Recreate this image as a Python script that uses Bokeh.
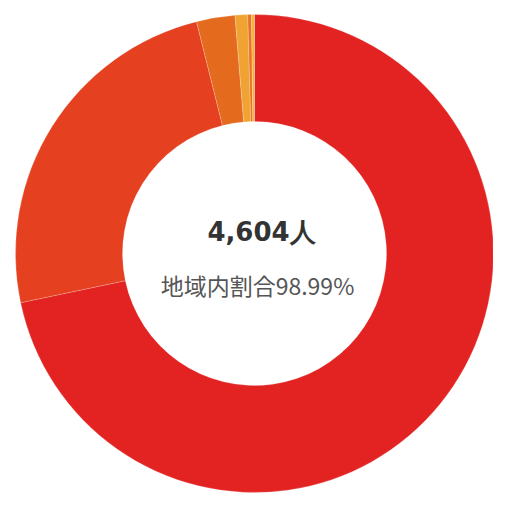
import math
from bokeh.plotting import figure
from bokeh.models import Range1d, ColumnDataSource
from bokeh.core.properties import value
from bokeh.embed import file_html
from bokeh.resources import INLINE

# Data (shares of the ring, clockwise from 12 o'clock)
categories = ["A", "B", "C", "D", "E", "F"]
shares = [71.7, 24.4, 2.6, 0.85, 0.25, 0.2]
colors = ["#e32222", "#e5401f", "#e46a1e", "#f0a232", "#e87422", "#f2b442"]
total_label = "4,604人"
sub_label = "地域内割合98.99%"

W = H = 493
p = figure(width=W, height=H, output_backend="svg", toolbar_location=None,
           x_range=Range1d(0, W), y_range=Range1d(0, H), min_border=0)
p.axis.visible = False
p.grid.visible = False
p.outline_line_color = None
p.background_fill_color = "white"
p.border_fill_color = "white"

cx, cy = 254, 240
tot = sum(shares)
starts, ends = [], []
acc = 0.0
for s in shares:
    starts.append(math.pi / 2 - acc / tot * 2 * math.pi)
    acc += s
    ends.append(math.pi / 2 - acc / tot * 2 * math.pi)

src = ColumnDataSource(dict(cat=categories, start=starts, end=ends, color=colors))
p.annular_wedge(x=cx, y=cy, inner_radius=132, outer_radius=239,
                start_angle="start", end_angle="end", direction="clock",
                fill_color="color", line_color="white", line_alpha=0.35,
                line_width=0.6, source=src)

p.text(x=[261], y=[262], text=[total_label], text_align="center",
       text_baseline="middle", text_font=value("DejaVu Sans"),
       text_font_style="bold", text_font_size="26px", text_color="#333333")
p.text(x=[257], y=[209], text=[sub_label], text_align="center",
       text_baseline="middle", text_font=value("Noto Sans CJK JP"),
       text_font_size="23px", text_color="#555555")

open("out.html", "w").write(file_html(p, INLINE))
